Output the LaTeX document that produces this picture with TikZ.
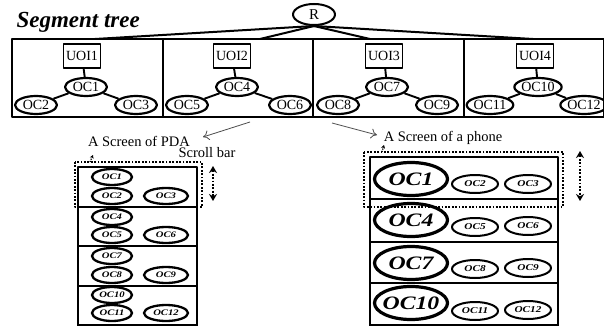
\documentclass[tikz,border=0pt]{standalone}
\usepackage{fontspec}
\setmainfont{Liberation Serif}
\newfontfamily\widefont{Liberation Serif}[FakeStretch=1.25]
\usetikzlibrary{shapes.geometric,arrows.meta}

\tikzset{
  treeoc/.style={ellipse, draw, line width=2.2pt, inner sep=0pt, minimum width=42, minimum height=18, font=\fontsize{14}{14}\selectfont},
  uoi/.style={draw, line width=1.8pt, inner sep=0pt, minimum width=37, minimum height=24, font=\fontsize{14}{14}\selectfont},
  pdaoc/.style={ellipse, draw, line width=2.3pt, inner sep=0pt, inner xsep=-2pt, minimum width=40, minimum height=16, font=\widefont\bfseries\itshape\fontsize{8.5}{8.5}\selectfont},
  bigoc/.style={ellipse, draw, line width=3.2pt, inner sep=0pt, inner xsep=-9pt, minimum width=73, minimum height=33, font=\widefont\bfseries\itshape\fontsize{19}{19}\selectfont},
  smalloc/.style={ellipse, draw, line width=2pt, inner sep=0pt, inner xsep=-3pt, minimum width=46, minimum height=18, font=\widefont\bfseries\itshape\fontsize{9}{9}\selectfont},
  dotbox/.style={line width=1.8pt, dash pattern=on 1.8pt off 1.6pt},
  scrollbar/.style={line width=1.8pt, dash pattern=on 1.8pt off 1.6pt, {Stealth[length=7pt,width=8pt]}-{Stealth[length=7pt,width=8pt]}},
  label/.style={font=\fontsize{14.5}{14.5}\selectfont}
}

\begin{document}
\begin{tikzpicture}[x=1pt, y=-1pt, line join=round]
\useasboundingbox (0,0) rectangle (604,326);

% segment tree
\node[font=\bfseries\itshape\fontsize{23}{23}\selectfont, anchor=base west] (title) at (13,28) {Segment tree};
\node[ellipse, draw, line width=2pt, inner sep=0pt, minimum width=42, minimum height=21, font=\fontsize{15}{15}\selectfont] (r) at (314,14.5) {R};

\draw[line width=2.6pt] (12,39) rectangle (604,117);
\draw[line width=2.4pt] (163,39) -- (163,117);
\draw[line width=2.4pt] (313,39) -- (313,117);
\draw[line width=2.4pt] (464,39) -- (464,117);

\coordinate (t1) at (95,39);
\coordinate (t2) at (260,39);
\coordinate (t3) at (370,39);
\coordinate (t4) at (533,39);
\draw[line width=2pt] (r.south) -- (t1);
\draw[line width=2pt] (r.south) -- (t2);
\draw[line width=2pt] (r.south) -- (t3);
\draw[line width=2pt] (r.south) -- (t4);

\node[uoi] (uoi1) at (82,56) {UOI1};
\node[uoi] (uoi2) at (232,56) {UOI2};
\node[uoi] (uoi3) at (384,56) {UOI3};
\node[uoi] (uoi4) at (535,56) {UOI4};

\node[treeoc] (oc1) at (86,87) {OC1};
\node[treeoc] (oc2) at (36,105) {OC2};
\node[treeoc] (oc3) at (136,105) {OC3};
\node[treeoc] (oc4) at (237,87) {OC4};
\node[treeoc] (oc5) at (187,105) {OC5};
\node[treeoc] (oc6) at (290,105) {OC6};
\node[treeoc] (oc7) at (387,87) {OC7};
\node[treeoc] (oc8) at (338,105) {OC8};
\node[treeoc] (oc9) at (437,105) {OC9};
\node[treeoc] (oc10) at (538,87) {OC10};
\node[treeoc] (oc11) at (490,105) {OC11};
\node[treeoc] (oc12) at (584,105) {OC12};

\draw[line width=1.9pt] (uoi1) -- (oc1) (oc1) -- (oc2) (oc1) -- (oc3);
\draw[line width=1.9pt] (uoi2) -- (oc4) (oc4) -- (oc5) (oc4) -- (oc6);
\draw[line width=1.9pt] (uoi3) -- (oc7) (oc7) -- (oc8) (oc7) -- (oc9);
\draw[line width=1.9pt] (uoi4) -- (oc10) (oc10) -- (oc11) (oc10) -- (oc12);

% arrows to the two screens
\coordinate (a1) at (250,122);
\coordinate (a2) at (203,137);
\coordinate (b1) at (332,123);
\coordinate (b2) at (377,135);
\draw[black!70, line width=0.8pt, -{To[length=6pt,width=10pt]}] (a1) -- (a2);
\draw[black!70, line width=0.8pt, -{To[length=6pt,width=10pt]}] (b1) -- (b2);

% screen of PDA
\node[label] (pda) at (139,141) {A Screen of PDA};
\node[label] (scroll) at (207,153) {Scroll bar};
\draw[dotbox] (75,162) rectangle (202,207);
\coordinate (p1) at (90,162);
\coordinate (p2) at (93,155);
\draw[line width=1.2pt, dash pattern=on 1.2pt off 1.2pt, -{Stealth[length=3.5pt,width=4pt]}] (p1) -- (p2);
\draw[line width=1.6pt] (78,326) -- (78,167) -- (197,167) -- (197,326);
\draw[line width=1.6pt] (78,325) -- (197,325);
\draw[line width=1.6pt] (78,207) -- (197,207);
\draw[line width=1.6pt] (78,246) -- (197,246);
\draw[line width=1.6pt] (78,286) -- (197,286);
\coordinate (s1) at (213,166);
\coordinate (s2) at (213,201);
\draw[scrollbar] (s1) -- (s2);

\node[pdaoc] (poc1) at (112,177) {OC1};
\node[pdaoc] (poc2) at (112,196) {OC2};
\node[pdaoc, minimum width=44] (poc3) at (166,196) {OC3};
\node[pdaoc] (poc4) at (112,217) {OC4};
\node[pdaoc] (poc5) at (112,235) {OC5};
\node[pdaoc, minimum width=44] (poc6) at (166,235) {OC6};
\node[pdaoc] (poc7) at (112,256) {OC7};
\node[pdaoc] (poc8) at (112,275) {OC8};
\node[pdaoc, minimum width=44] (poc9) at (166,275) {OC9};
\node[pdaoc] (poc10) at (112,295) {OC10};
\node[pdaoc] (poc11) at (112,313) {OC11};
\node[pdaoc, minimum width=44] (poc12) at (166,313) {OC12};

% screen of a phone
\node[label] (phone) at (443,138) {A Screen of a phone};
\draw[dotbox] (364,152) rectangle (563,207);
\coordinate (q1) at (382,152);
\coordinate (q2) at (384,145);
\draw[line width=1.2pt, dash pattern=on 1.2pt off 1.2pt, -{Stealth[length=3.5pt,width=4pt]}] (q1) -- (q2);
\draw[line width=1.6pt] (370,326) -- (370,157) -- (558,157) -- (558,326);
\draw[line width=1.6pt] (370,325) -- (558,325);
\draw[line width=1.6pt] (370,199) -- (558,199);
\draw[line width=1.6pt] (370,242) -- (558,242);
\draw[line width=1.6pt] (370,283) -- (558,283);
\coordinate (u1) at (580,151);
\coordinate (u2) at (580,201);
\draw[scrollbar] (u1) -- (u2);

\node[bigoc] (foc1) at (411,179) {OC1};
\node[smalloc] (foc2) at (475,184) {OC2};
\node[smalloc] (foc3) at (528,184) {OC3};
\node[bigoc] (foc4) at (411,220) {OC4};
\node[smalloc] (foc5) at (475,227) {OC5};
\node[smalloc] (foc6) at (528,226) {OC6};
\node[bigoc] (foc7) at (411,263) {OC7};
\node[smalloc] (foc8) at (475,269) {OC8};
\node[smalloc] (foc9) at (528,268) {OC9};
\node[bigoc] (foc10) at (411,303) {OC10};
\node[smalloc] (foc11) at (475,311) {OC11};
\node[smalloc] (foc12) at (528,310) {OC12};

\end{tikzpicture}
\end{document}
